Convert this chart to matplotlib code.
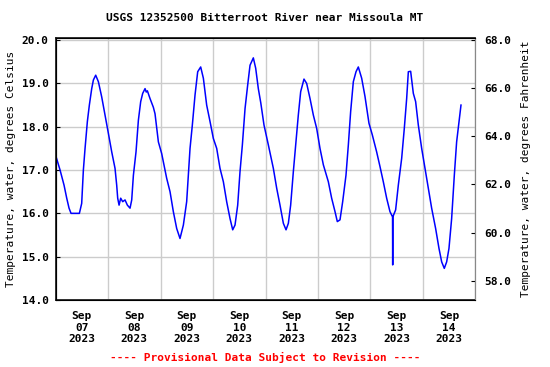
import numpy as np
import matplotlib
matplotlib.use('Agg')
import matplotlib.pyplot as plt

# Time in days since 2023-09-07 00:00, water temperature in deg C.
days = [0.009, 0.086, 0.162, 0.213, 0.257, 0.295, 0.454, 0.498, 0.530, 0.562,
        0.606, 0.644, 0.689, 0.721, 0.765, 0.816, 0.879, 0.943, 1.006, 1.070,
        1.133, 1.165, 1.184, 1.210, 1.241, 1.279, 1.324, 1.368, 1.419, 1.451,
        1.483, 1.533, 1.578, 1.622, 1.660, 1.705, 1.728, 1.749, 1.800, 1.863,
        1.895, 1.959, 2.022, 2.117, 2.181, 2.244, 2.308, 2.371, 2.435, 2.498,
        2.530, 2.562, 2.606, 2.657, 2.708, 2.765, 2.816, 2.879, 2.943, 3.006,
        3.070, 3.133, 3.197, 3.260, 3.324, 3.375, 3.419, 3.470, 3.514, 3.559,
        3.610, 3.660, 3.705, 3.768, 3.813, 3.863, 3.910, 3.971, 4.054, 4.149,
        4.213, 4.276, 4.340, 4.391, 4.435, 4.479, 4.530, 4.581, 4.625, 4.670,
        4.733, 4.784, 4.848, 4.911, 4.975, 5.038, 5.102, 5.197, 5.260, 5.324,
        5.368, 5.419, 5.470, 5.533, 5.578, 5.622, 5.673, 5.724, 5.768, 5.832,
        5.895, 5.971, 6.035, 6.117, 6.181, 6.244, 6.308, 6.371, 6.420, 6.423,
        6.426, 6.479, 6.530, 6.594, 6.644, 6.689, 6.721, 6.765, 6.816, 6.860,
        6.911, 6.975, 7.038, 7.102, 7.165, 7.241, 7.305, 7.356, 7.406, 7.451,
        7.495, 7.546, 7.597, 7.641, 7.686, 7.724]
temp_c = [17.31, 17.00, 16.65, 16.35, 16.12, 16.00, 16.00, 16.23, 17.00, 17.50,
          18.12, 18.50, 18.88, 19.08, 19.19, 19.04, 18.69, 18.27, 17.85, 17.42,
          17.04, 16.65, 16.35, 16.19, 16.35, 16.27, 16.31, 16.19, 16.12, 16.31,
          16.88, 17.42, 18.15, 18.58, 18.77, 18.88, 18.80, 18.83, 18.65, 18.45,
          18.30, 17.65, 17.38, 16.81, 16.50, 16.04, 15.65, 15.42, 15.73, 16.27,
          16.88, 17.50, 18.04, 18.73, 19.27, 19.38, 19.12, 18.50, 18.12, 17.73,
          17.50, 17.04, 16.73, 16.27, 15.88, 15.62, 15.73, 16.19, 16.96, 17.58,
          18.42, 18.96, 19.42, 19.59, 19.35, 18.88, 18.55, 18.04, 17.58, 17.04,
          16.58, 16.19, 15.77, 15.62, 15.77, 16.19, 16.96, 17.65, 18.27, 18.81,
          19.10, 19.00, 18.65, 18.27, 17.96, 17.50, 17.12, 16.73, 16.35, 16.04,
          15.81, 15.85, 16.27, 16.88, 17.58, 18.35, 19.04, 19.27, 19.38, 19.12,
          18.70, 18.08, 17.81, 17.42, 17.08, 16.73, 16.35, 16.04, 15.92, 14.81,
          15.92, 16.08, 16.65, 17.27, 17.96, 18.65, 19.27, 19.28, 18.77, 18.58,
          18.04, 17.50, 17.04, 16.58, 16.12, 15.65, 15.19, 14.88, 14.73, 14.88,
          15.19, 15.88, 16.88, 17.65, 18.12, 18.50]

day_labels = ['Sep\n07\n2023', 'Sep\n08\n2023', 'Sep\n09\n2023', 'Sep\n10\n2023',
              'Sep\n11\n2023', 'Sep\n12\n2023', 'Sep\n13\n2023', 'Sep\n14\n2023']
c_ticks = [14.0, 15.0, 16.0, 17.0, 18.0, 19.0, 20.0]
f_ticks = [58.0, 60.0, 62.0, 64.0, 66.0, 68.0]


def main():
    plt.rcParams['font.family'] = 'DejaVu Sans Mono'
    plt.rcParams['font.weight'] = 'bold'
    plt.rcParams['font.size'] = 8

    fig = plt.figure(figsize=(5.5, 3.67), dpi=100)
    ax = fig.add_axes([0.101, 0.1826, 0.7635, 0.714])

    ax.plot(days, temp_c, color='#0000ff', lw=1.1)

    ax.set_xlim(0, 8)
    ax.set_ylim(14, 20.05)

    #Gridlines at day boundaries, labels at noon.
    ax.set_xticks(np.arange(0, 9))
    ax.set_xticks(np.arange(0.5, 8), minor=True)
    ax.set_xticklabels([''] * 9)
    ax.set_xticklabels(day_labels, minor=True)
    ax.tick_params(axis='x', which='both', length=0, pad=8)
    ax.grid(True, axis='x', which='major', color='#cccccc', lw=1)

    ax.set_yticks(c_ticks)
    ax.set_yticklabels(['%.1f' % v for v in c_ticks])
    ax.tick_params(axis='y', direction='in', length=3, pad=5)
    ax.grid(True, axis='y', color='#cccccc', lw=1)
    ax.set_axisbelow(True)
    ax.set_ylabel('Temperature, water, degrees Celsius', labelpad=4)

    for side in ['left', 'top', 'bottom']:
        ax.spines[side].set_color('#222222')
        ax.spines[side].set_linewidth(1.3)
    ax.spines['right'].set_color('#888888')

    ax2 = ax.twinx()
    lo, hi = ax.get_ylim()
    ax2.set_ylim(lo * 1.8 + 32, hi * 1.8 + 32)
    ax2.set_yticks(f_ticks)
    ax2.set_yticklabels(['%.1f' % v for v in f_ticks])
    ax2.tick_params(axis='y', direction='in', length=3, pad=6)
    ax2.set_ylabel('Temperature, water, degrees Fahrenheit', labelpad=7)
    ax2.spines['right'].set_color('#888888')

    fig.text(0.482, 0.95, 'USGS 12352500 Bitterroot River near Missoula MT',
             ha='center', va='center')
    fig.text(0.482, 0.027, '---- Provisional Data Subject to Revision ----',
             ha='center', va='center', color='red')

    fig.savefig('out.png', dpi=100)


if __name__ == "__main__":
    main()
